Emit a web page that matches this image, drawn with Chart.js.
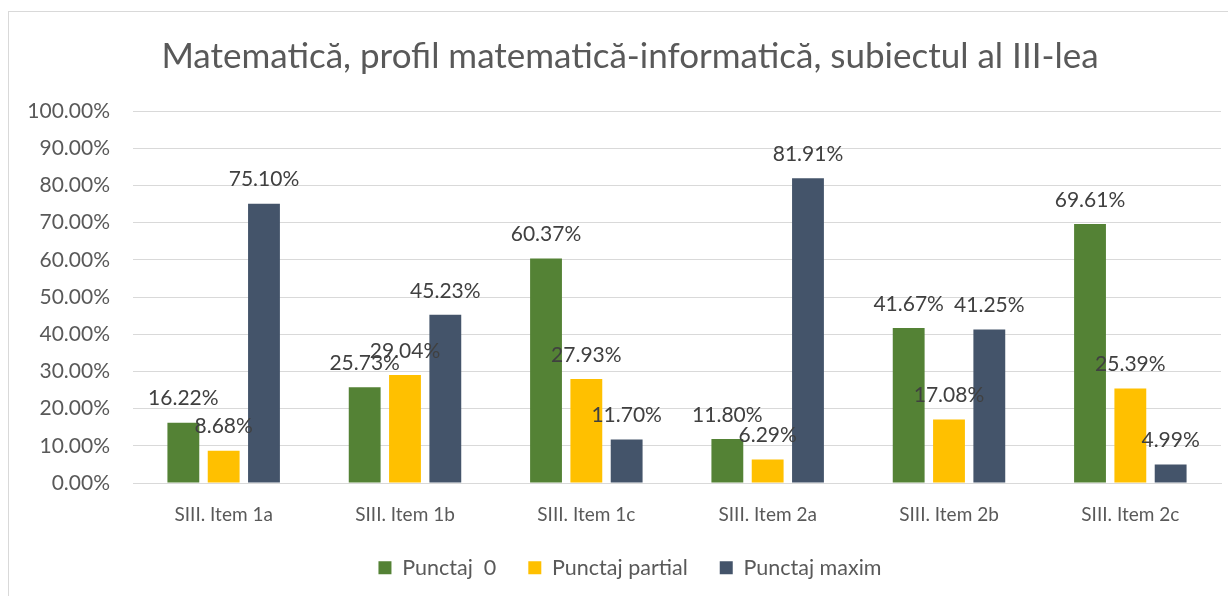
<!DOCTYPE html>
<html>
<head>
<meta charset="utf-8">
<script src="https://cdn.jsdelivr.net/npm/chart.js@4"></script>
<style>
  html, body { margin: 0; padding: 0; background: #ffffff; }
  #wrap { position: relative; width: 1228px; height: 596px; overflow: hidden; }
  #frame { position: absolute; left: 8px; top: 11px; width: 1240px; height: 600px; border-left: 1px solid #D9D9D9; border-top: 1px solid #D9D9D9; pointer-events: none; }
  canvas { position: absolute; left: 0; top: 0; }
</style>
</head>
<body>
<div id="wrap">
  <canvas id="c" width="1228" height="596"></canvas>
  <div id="frame"></div>
</div>
<script>
const categories = ["SIII. Item 1a", "SIII. Item 1b", "SIII. Item 1c", "SIII. Item 2a", "SIII. Item 2b", "SIII. Item 2c"];
const seriesNames = ["Punctaj  0", "Punctaj partial", "Punctaj maxim"];
const punctaj0 = [16.22, 25.73, 60.37, 11.80, 41.67, 69.61];
const punctajPartial = [8.68, 29.04, 27.93, 6.29, 17.08, 25.39];
const punctajMaxim = [75.10, 45.23, 11.70, 81.91, 41.25, 4.99];
const yTicks = [0, 10, 20, 30, 40, 50, 60, 70, 80, 90, 100];
const titleText = "Matematică, profil matematică-informatică, subiectul al III-lea";

const FONT = "Lato, 'Open Sans', sans-serif";

const dataLabels = {
  id: 'dataLabels',
  afterDatasetsDraw(chart) {
    const ctx = chart.ctx;
    ctx.save();
    ctx.font = "21px " + FONT;
    ctx.fillStyle = "#404040";
    ctx.textAlign = "center";
    ctx.textBaseline = "middle";
    chart.data.datasets.forEach((ds, di) => {
      const meta = chart.getDatasetMeta(di);
      meta.data.forEach((el, i) => {
        ctx.fillText(ds.data[i].toFixed(2) + "%", el.x, el.y - 24);
      });
    });
    ctx.restore();
  }
};

// let the y tick labels extend left of the axis box without being clipped
const unclipY = {
  id: 'unclipY',
  afterLayout(chart) { chart.scales.y.left = 0; }
};

new Chart(document.getElementById('c'), {
  type: 'bar',
  data: {
    labels: categories,
    datasets: [
      { label: seriesNames[0], data: punctaj0, backgroundColor: "#548235" },
      { label: seriesNames[1], data: punctajPartial, backgroundColor: "#FFC000" },
      { label: seriesNames[2], data: punctajMaxim, backgroundColor: "#44546A" }
    ]
  },
  options: {
    responsive: false,
    animation: false,
    devicePixelRatio: 1,
    layout: { padding: { left: 39, right: 7, top: 0, bottom: 7.5 } },
    datasets: { bar: { categoryPercentage: 0.667, barPercentage: 0.79 } },
    plugins: {
      title: {
        display: true,
        text: titleText,
        color: "#595959",
        font: { family: FONT, size: 35, weight: 'normal' },
        padding: { top: 36, bottom: 33 }
      },
      legend: {
        position: 'bottom',
        labels: {
          color: "#595959",
          font: { family: FONT, size: 21.5 },
          boxWidth: 13,
          boxHeight: 13,
          padding: 32
        }
      },
      tooltip: { enabled: false }
    },
    scales: {
      x: {
        grid: { display: false, drawTicks: false },
        border: { display: true, color: "#D9D9D9" },
        afterFit(scale) { scale.height = 42; },
        ticks: { color: "#595959", font: { family: FONT, size: 19 }, padding: 20, maxRotation: 0 }
      },
      y: {
        min: 0, max: 100,
        afterBuildTicks(scale) { scale.ticks = yTicks.map(v => ({ value: v })); },
        afterFit(scale) { scale.width = 94; },
        grid: { color: "#D9D9D9", drawTicks: false },
        border: { display: false },
        ticks: {
          color: "#595959",
          font: { family: FONT, size: 21 },
          padding: 23,
          callback: v => v.toFixed(2) + "%"
        }
      }
    }
  },
  plugins: [dataLabels, unclipY]
});
</script>
</body>
</html>
